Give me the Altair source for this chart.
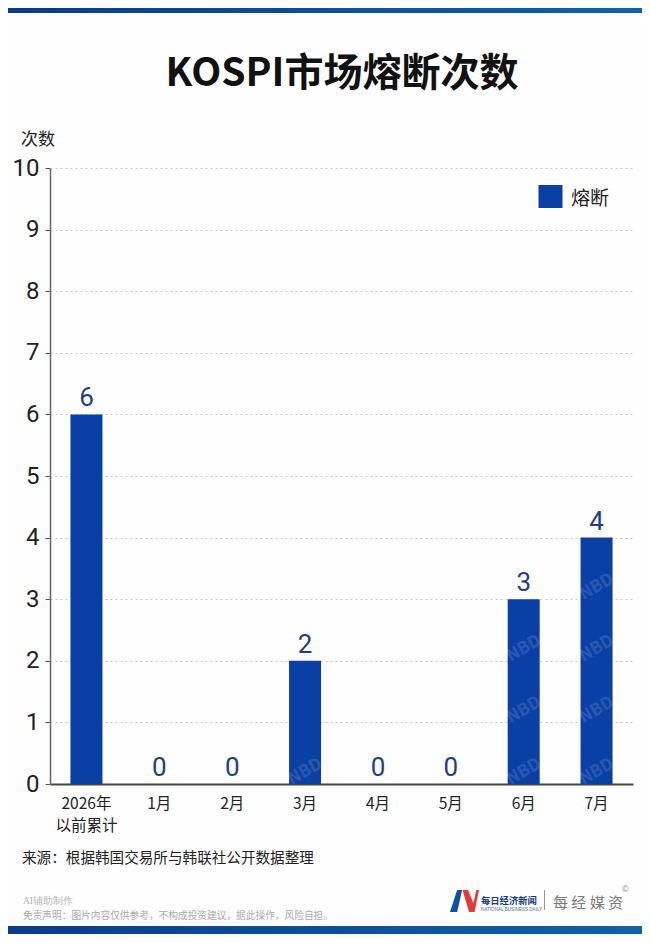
import altair as alt
import pandas as pd

categories = ["2026年\n以前累计", "1月", "2月", "3月", "4月", "5月", "6月", "7月"]
counts = [6, 0, 0, 2, 0, 0, 3, 4]
wm_cats = ["3月", "6月", "6月", "6月", "7月", "7月", "7月", "7月"]
wm_vals = [0.2, 0.2, 1.2, 2.2, 0.2, 1.2, 2.2, 3.2]

TITLE = "KOSPI市场熔断次数"
Y_TITLE = "次数"
LEGEND = "熔断"
SOURCE = "来源：根据韩国交易所与韩联社公开数据整理"
AI_NOTE = "AI辅助制作"
DISCLAIMER = "免责声明：图片内容仅供参考，不构成投资建议，据此操作，风险自担。"
BRAND = "每日经济新闻"
BRAND_EN = "NATIONAL BUSINESS DAILY"
MEDIA = "每 经 媒 资"

BLUE = "#0A3FA5"
LABEL_BLUE = "#1B3F8B"
CJK = "Noto Sans CJK SC"
NUM = "Roboto"

df = pd.DataFrame({"cat": categories, "n": counts})
wm = pd.DataFrame({"cat": wm_cats, "v": wm_vals})
blank = alt.Data(values=[{}])

x_enc = alt.X("cat:N", sort=categories, scale=alt.Scale(domain=categories, paddingInner=0.55, paddingOuter=0.275),
              axis=alt.Axis(title=None, labelAngle=0, ticks=False, labelFontSize=15.5, labelFont=CJK,
                            labelColor="#222222", labelPadding=12, domainColor="#444444", domainWidth=2,
                            labelExpr="split(datum.label, '\\n')", labelLineHeight=22, grid=False))
y_enc = alt.Y("n:Q", scale=alt.Scale(domain=[0, 10]),
              axis=alt.Axis(title=None, values=list(range(11)), format="d", labelFontSize=24, labelFont=NUM,
                            labelColor="#222222", labelPadding=6, tickSize=5, tickColor="#555555",
                            domainColor="#666666", domainWidth=1.5, grid=True, gridColor="#C8C8C8",
                            gridDash=[2, 3], gridWidth=1))

bars = alt.Chart(df).mark_bar(color=BLUE, size=32).encode(x=x_enc, y=y_enc)
labels = alt.Chart(df).mark_text(font=NUM, fontSize=26, color=LABEL_BLUE, baseline="bottom", dy=-3).encode(
    x=alt.X("cat:N", sort=categories), y=alt.Y("n:Q"), text=alt.Text("n:Q", format="d"))
marks_wm = alt.Chart(wm).mark_text(font=CJK, fontSize=17, fontWeight="bold", color="#FFFFFF", opacity=0.13, angle=330).encode(
    x=alt.X("cat:N", sort=categories), y=alt.Y("v:Q", title=None), text=alt.value("NBD"))


def txt(s, x, y, size, color="#222222", font=CJK, align="left", weight="normal", opacity=1.0):
    return alt.Chart(blank).mark_text(font=font, fontSize=size, color=color, align=align, baseline="middle",
                                      fontWeight=weight, opacity=opacity).encode(
        x=alt.value(x - 50), y=alt.value(y - 168), text=alt.value(s))


def band(y0, y1):
    grad = alt.LinearGradient(gradient="linear", stops=[alt.GradientStop(color="#0B3A8E", offset=0),
                                                        alt.GradientStop(color="#0F62AA", offset=1)],
                              x1=0, x2=1, y1=0, y2=0)
    return alt.Chart(blank).mark_rect(color=grad).encode(
        x=alt.value(-42), x2=alt.value(592), y=alt.value(y0 - 168), y2=alt.value(y1 - 168))


def rect(x0, x1, y0, y1, color):
    return alt.Chart(blank).mark_rect(color=color).encode(
        x=alt.value(x0 - 50), x2=alt.value(x1 - 50), y=alt.value(y0 - 168), y2=alt.value(y1 - 168))


def shape(path, cx, cy, size, color):
    return alt.Chart(blank).mark_point(shape=path, filled=True, color=color, opacity=1, size=size, strokeWidth=0).encode(
        x=alt.value(cx - 50), y=alt.value(cy - 168))


chart = alt.layer(
    band(8, 13),
    band(926, 934),
    bars,
    marks_wm,
    labels,
    txt(TITLE, 342, 74, 39, color="#111111", align="center", weight="bold"),
    txt(Y_TITLE, 38, 140, 17, align="center"),
    rect(538.5, 562.5, 185, 208, BLUE),
    txt(LEGEND, 571, 199, 19),
    txt(SOURCE, 22, 859, 14.6),
    txt(AI_NOTE, 23, 901, 9.5, color="#B5B5B5", font="Liberation Serif"),
    txt(DISCLAIMER, 23, 916, 9.7, color="#ABABAB"),
    shape("M-0.35,-1 L0.1,-1 L-0.35,1 L-1,1 Z", 461, 901, 484, "#0F4FA8"),
    shape("M-0.5,-1 L0,-1 L0.5,0.2 L0.75,-1 L1,-1 L0.6,1 L0.1,1 Z", 468, 901, 484, "#E5383B"),
    txt(BRAND, 481, 900.5, 9.3, color="#163C87", weight="bold"),
    txt(BRAND_EN, 481, 909.5, 4.6, color="#5C6F99", font="Liberation Sans"),
    rect(544, 545, 890, 910, "#9A9A9A"),
    txt(MEDIA, 553, 903, 15, color="#7B7B7B"),
    txt("©", 622, 889, 9, color="#8A8A8A", font="Liberation Sans"),
).properties(
    width=583,
    height=616,
    padding={"left": 42, "top": 160, "right": 9, "bottom": 150},
    autosize=alt.AutoSizeParams(type="none"),
    background="#FEFEFE",
).configure_view(stroke=None)

chart.save("out.html", embed_options={"renderer": "svg", "actions": False})
